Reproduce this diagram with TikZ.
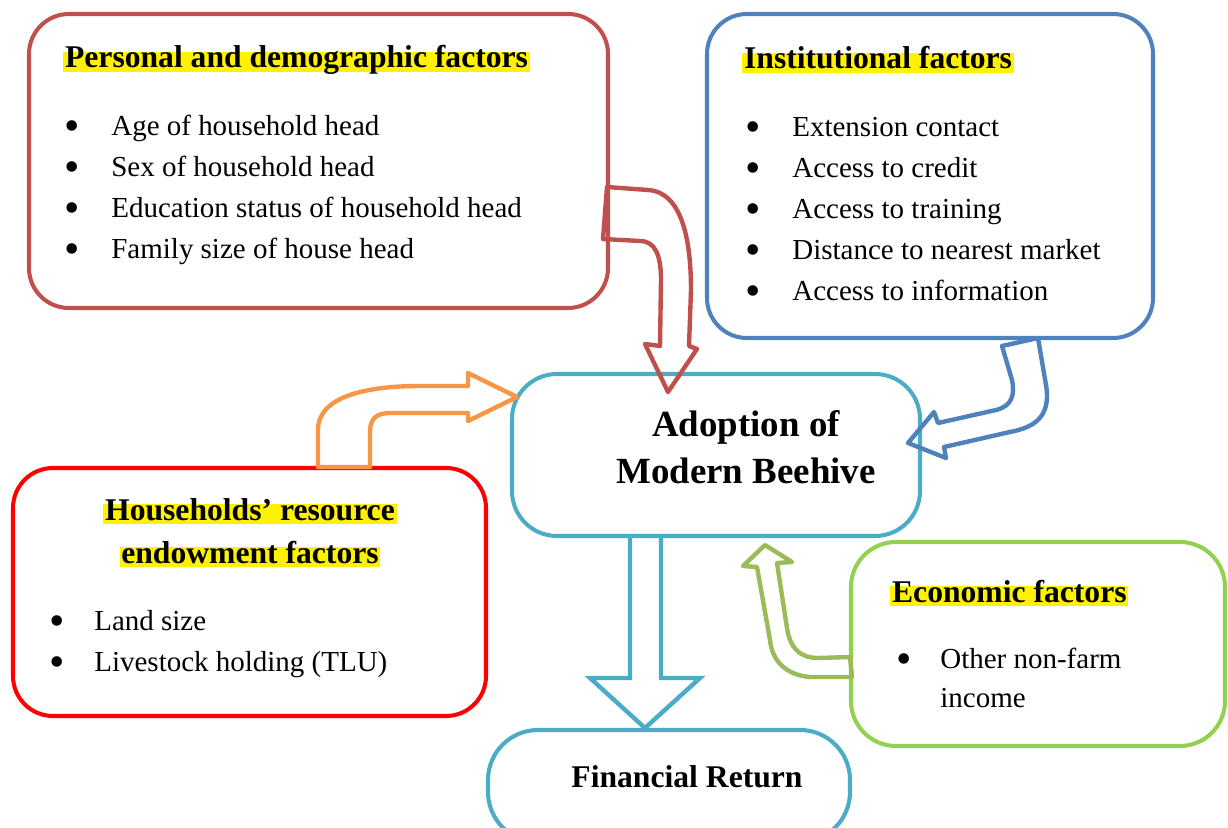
\documentclass[tikz,border=0pt]{standalone}
\usepackage{fontspec}
\setmainfont{Liberation Serif}
\usepackage{xcolor}
\usetikzlibrary{fit, positioning}

\definecolor{persred}{HTML}{C0504D}
\definecolor{instblue}{HTML}{4F81BD}
\definecolor{adoptteal}{HTML}{4BACC6}
\definecolor{hhred}{HTML}{FF0000}
\definecolor{econgreen}{HTML}{92D050}
\definecolor{olivegreen}{HTML}{9BBB59}
\definecolor{hhorange}{HTML}{F79646}

% bullet followed by the item text
\newcommand{\bitem}[2][0.94cm]{\makebox[#1][l]{\raisebox{-3pt}{\fontsize{25}{25}\selectfont\textbullet}}#2}

\begin{document}
\begin{tikzpicture}[x=0.02cm, y=-0.02cm,
        box/.style={draw, line width=2.3pt, rounded corners=0.8cm, inner sep=0pt},
        title/.style={fill=yellow, anchor=base, inner xsep=1pt, inner ysep=0pt,
          text height=0.891em, text depth=0.216em, font=\bfseries\fontsize{18}{22}\selectfont},
        item/.style={anchor=base west, inner sep=0pt, font=\fontsize{16.5}{20}\selectfont},
        big/.style={anchor=base, inner sep=0pt, font=\bfseries\fontsize{21}{25}\selectfont},
        fatarrow/.style={line width=2.5pt, line join=round},
      ]
      \useasboundingbox (0,0) rectangle (1228,828);
      \clip (0,0) rectangle (1228,828);

      % the boxes
      \node[box, draw=persred, fit={(29,14) (608,308)}] (personal) {};
      \node[box, draw=instblue, fit={(707,14) (1153,338)}] (institutional) {};
      \node[box, draw=adoptteal, rounded corners=0.9cm, fit={(512,374) (920,536)}] (adoption) {};
      \node[box, draw=hhred, fit={(13,468) (486,716)}] (households) {};
      \node[box, draw=econgreen, rounded corners=0.9cm, fit={(851,542) (1225,746)}] (economic) {};
      \node[box, draw=adoptteal, rounded corners=1cm, fit={(488,730) (850,842)}] (financial) {};

      % headings
      \node[title, anchor=base west] (personal-title) at (63,68) {Personal and demographic factors};
      \node[title, anchor=base west] (inst-title) at (742,69) {Institutional factors};
      \node[title] (hh-title1) at (250,520) {Households’ resource};
      \node[title] (hh-title2) at (250,563) {endowment factors};
      \node[title, anchor=base west] (econ-title) at (890,602) {Economic factors};

      \node[big] (adopt-line1) at (746,436) {Adoption of};
      \node[big] (adopt-line2) at (746,483) {Modern Beehive};
      \node[big, font=\bfseries\fontsize{18}{22}\selectfont] (fin-text) at (687,787) {Financial Return};

      % bullet lists
      \foreach \y/\txt [count=\i] in {135/Age of household head, 176/Sex of household head,
          217/Education status of household head, 258/Family size of house head}
        \node[item] (personal-\i) at (64,\y) {\bitem{\txt}};
      \foreach \y/\txt [count=\i] in {136/Extension contact, 177/Access to credit,
          218/Access to training, 259/Distance to nearest market, 300/Access to information}
        \node[item] (inst-\i) at (745,\y) {\bitem[0.94cm]{\txt}};
      \foreach \y/\txt [count=\i] in {630/Land size, 671/Livestock holding (TLU)}
        \node[item] (hh-\i) at (49,\y) {\bitem[0.9cm]{\txt}};
      \node[item] (econ-1) at (896,668) {\bitem[0.88cm]{Other non-farm}};
      \node[item] (econ-1b) at (940,707) {income};

      % block arrows into and out of the adoption box
      \draw[fatarrow, persred] (607,187) -- (648,190) .. controls (682,192) and (691,240) .. (691,290)
        -- (689,346) -- (697,349) -- (668,392) -- (645,344) -- (660,346) -- (661,280)
        .. controls (661,255) and (655,241) .. (640,241) -- (603,239) -- cycle;
      \draw[fatarrow, hhorange] (318,467) -- (318,430) .. controls (318,395) and (370,386) .. (420,386)
        -- (468,386) -- (468,373) -- (517,397) -- (468,421) -- (468,413) -- (390,413)
        .. controls (375,413) and (370,420) .. (370,432) -- (370,467) -- cycle;
      \draw[fatarrow, instblue] (1002,346) -- (1038,338) -- (1046,385) .. controls (1052,420) and (1030,428) .. (1010,432)
        -- (944,447) -- (946,458) -- (908,443) -- (934,412) -- (938,423) -- (996,410)
        .. controls (1012,406) and (1015,395) .. (1012,380) -- cycle;
      \draw[fatarrow, olivegreen] (850,657) -- (852,677) -- (810,677) .. controls (785,675) and (772,660) .. (770,640)
        -- (757,567) -- (743,566) -- (765,545) -- (792,562) -- (777,563) -- (787,628)
        .. controls (790,648) and (800,658) .. (818,658) -- cycle;
      \draw[fatarrow, adoptteal, line join=miter] (630,537) -- (630,678) -- (590,678) -- (645,728)
        -- (700,678) -- (661,678) -- (661,537);
    \end{tikzpicture}
\end{document}
